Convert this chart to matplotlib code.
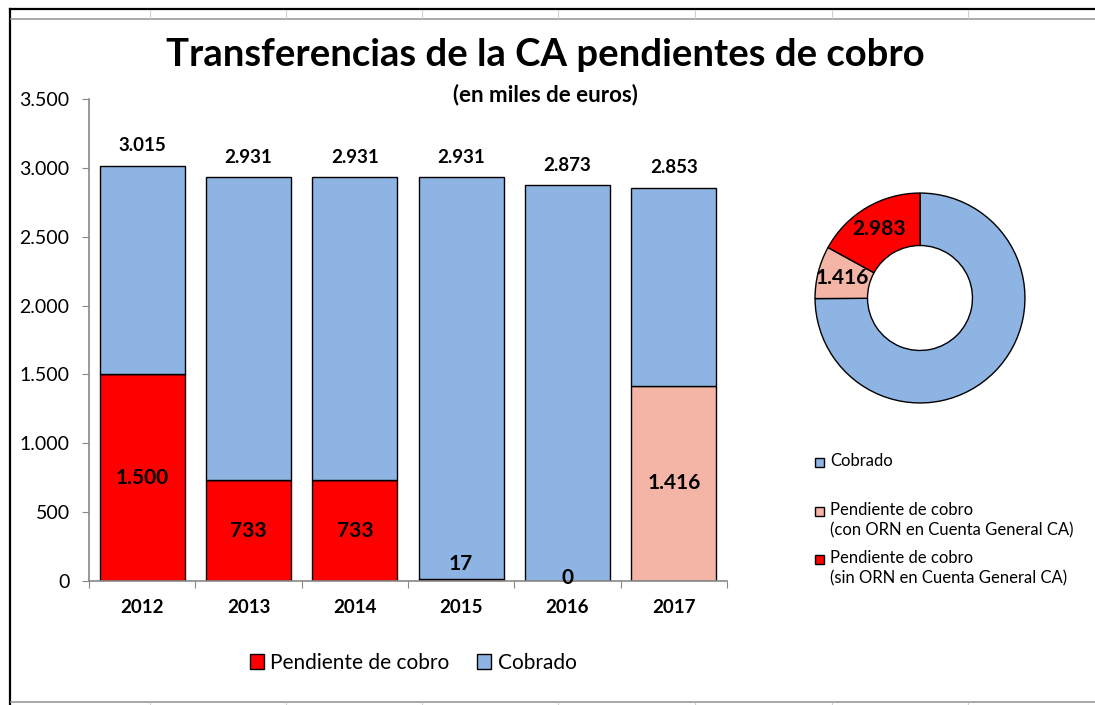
import math
import matplotlib.pyplot as plt
from matplotlib.lines import Line2D
from matplotlib.patches import Patch

plt.rcParams['font.family'] = ['Lato', 'DejaVu Sans']

years = ['2012', '2013', '2014', '2015', '2016', '2017']
pendiente = [1500, 733, 733, 17, 0, 0]
pendiente_orn = [0, 0, 0, 0, 0, 1416]
cobrado = [1515, 2198, 2198, 2914, 2873, 1437]
totales = ['3.015', '2.931', '2.931', '2.931', '2.873', '2.853']
pend_labels = ['1.500', '733', '733', '17', '0', '1.416']

pie_values = [13135, 1416, 2983]
pie_labels = ['', '1.416', '2.983']

c_blue = '#8DB4E2'
c_red = '#FF0000'
c_pink = '#F4B4A6'


def fmt_miles(v, pos=None):
    return '{:,.0f}'.format(v).replace(',', '.')


fig = plt.figure(figsize=(10.95, 7.05), dpi=100)
W, H = 1095, 705


def px(x, y):
    return x / W, 1 - y / H


# spreadsheet frame around the chart
fig.add_artist(Line2D([10 / W, 1], [1 - 9 / H] * 2, color='black', lw=1.6))
fig.add_artist(Line2D([10 / W] * 2, [0, 1 - 9 / H], color='black', lw=1.6))
fig.add_artist(Line2D([11 / W, 1], [1 - 19 / H] * 2, color='#999999', lw=1.2))
fig.add_artist(Line2D([11 / W, 1], [1 - 702 / H] * 2, color='#999999', lw=1.2))
for xd in [150, 286, 422, 558, 695, 832, 968]:
    fig.add_artist(Line2D([xd / W] * 2, [1 - 10 / H, 1 - 18 / H], color='#d0d0d0', lw=0.8))
    fig.add_artist(Line2D([xd / W] * 2, [0, 1 - 703 / H], color='#d0d0d0', lw=0.8))

# bar chart
ax = fig.add_axes([89 / W, 124 / H, 638 / W, 482 / H])
x = range(len(years))
ax.bar(x, pendiente, width=0.8, color=c_red, edgecolor='black', linewidth=1)
ax.bar(x, pendiente_orn, width=0.8, color=c_pink, edgecolor='black', linewidth=1,
       bottom=pendiente)
bottoms = [a + b for a, b in zip(pendiente, pendiente_orn)]
ax.bar(x, cobrado, width=0.8, color=c_blue, edgecolor='black', linewidth=1,
       bottom=bottoms)

for i in x:
    top = bottoms[i] + cobrado[i]
    ax.text(i, top + 85, totales[i], ha='center', va='bottom', fontsize=13.5,
            fontweight='bold')
    base = bottoms[i]
    if base >= 500:
        ax.text(i, base / 2, pend_labels[i], ha='center', va='center',
                fontsize=15, fontweight='bold')
    elif pend_labels[i] == '0':
        ax.text(i, 20, pend_labels[i], ha='center', va='center',
                fontsize=15, fontweight='bold')
    else:
        ax.text(i, base + 110, pend_labels[i], ha='center', va='center',
                fontsize=15, fontweight='bold')

ax.set_xlim(-0.5, 5.5)
ax.set_ylim(0, 3500)
ax.set_yticks(range(0, 3501, 500))
ax.yaxis.set_major_formatter(fmt_miles)
ax.set_xticks([i - 0.5 for i in range(7)])
ax.set_xticklabels([])
ax.set_xticks(list(x), minor=True)
ax.set_xticklabels(years, minor=True, fontweight='bold', fontsize=13.5)
ax.tick_params(axis='x', which='major', length=5, color='#888888')
ax.tick_params(axis='x', which='minor', length=0, pad=13)
ax.tick_params(axis='y', length=5, color='#888888', labelsize=14, pad=9)
for s in ['top', 'right']:
    ax.spines[s].set_visible(False)
for s in ['left', 'bottom']:
    ax.spines[s].set_color('#888888')
    ax.spines[s].set_linewidth(1.2)

handles = [Patch(facecolor=c_red, edgecolor='black'),
           Patch(facecolor=c_blue, edgecolor='black')]
fig.legend(handles, ['Pendiente de cobro', 'Cobrado'], ncol=2, frameon=False,
           loc='center', bbox_to_anchor=px(413, 663), fontsize=15,
           handlelength=0.7, handleheight=0.7, handletextpad=0.3,
           columnspacing=1.3)

# donut chart
axp = fig.add_axes([814 / W, 301 / H, 212 / W, 212 / H])
wedges, _ = axp.pie(pie_values, colors=[c_blue, c_pink, c_red], startangle=90,
                    counterclock=False, radius=1,
                    wedgeprops=dict(width=0.5, edgecolor='black', linewidth=1))
total = sum(pie_values)
ang = 90
for v, lab in zip(pie_values, pie_labels):
    span = 360 * v / total
    mid = math.radians(ang - span / 2)
    ang -= span
    if lab:
        axp.text(0.76 * math.cos(mid), 0.76 * math.sin(mid), lab, ha='center',
                 va='center', fontsize=15, fontweight='bold')
axp.set_xlim(-1.01, 1.01)
axp.set_ylim(-1.01, 1.01)
axp.set_aspect('equal')

# right legend
leg_items = [(462, c_blue, 'Cobrado'),
             (511, c_pink, 'Pendiente de cobro\n(con ORN en Cuenta General CA)'),
             (559, c_red, 'Pendiente de cobro\n(sin ORN en Cuenta General CA)')]
for yy, col, txt in leg_items:
    fig.patches.append(plt.Rectangle(px(815, yy + 5), 9 / W, 9 / H, facecolor=col,
                                     edgecolor='black', linewidth=1,
                                     transform=fig.transFigure, figure=fig))
    fig.text(*px(830, yy - 9), txt, ha='left', va='top', fontsize=12,
             linespacing=1.3)

fig.text(*px(545, 55), 'Transferencias de la CA pendientes de cobro', ha='center',
         va='center', fontsize=27.5, fontweight='bold')
fig.text(*px(545, 95), '(en miles de euros)', ha='center', va='center',
         fontsize=16, fontweight='bold')

fig.savefig('out.png', dpi=100)
